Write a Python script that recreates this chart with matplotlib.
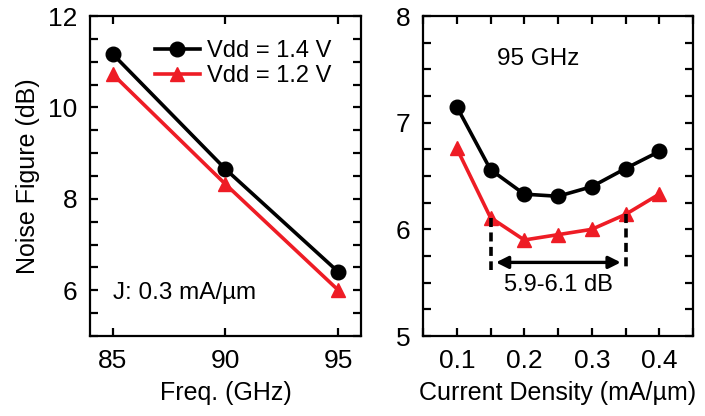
import matplotlib
matplotlib.use("Agg")
import matplotlib.pyplot as plt
from matplotlib.ticker import MultipleLocator, FuncFormatter

plt.rcParams['font.family'] = ['Liberation Sans', 'DejaVu Sans']

# ===== left: NF vs frequency =====
freq = [85, 90, 95]
nf_freq_14 = [11.17, 8.65, 6.4]
nf_freq_12 = [10.73, 8.32, 6.0]

# ===== right: NF vs current density @ 95 GHz =====
jd = [0.1, 0.15, 0.2, 0.25, 0.3, 0.35, 0.4]
nf_jd_14 = [7.15, 6.56, 6.33, 6.31, 6.40, 6.57, 6.73]
nf_jd_12 = [6.76, 6.11, 5.90, 5.95, 6.00, 6.14, 6.33]

BLACK = "#000000"
RED = "#ee1c25"

fig = plt.figure(figsize=(7.05, 4.16), dpi=100)
ax1 = fig.add_axes([0.1277, 0.1923, 0.3843, 0.7692])
ax2 = fig.add_axes([0.600, 0.1923, 0.383, 0.7692])

line_kw = dict(lw=2.6, markersize=10.5)

ax1.plot(freq, nf_freq_14, color=BLACK, marker="o", label="Vdd = 1.4 V", **line_kw)
ax1.plot(freq, nf_freq_12, color=RED, marker="^", label="Vdd = 1.2 V",
         markeredgecolor=RED, **line_kw)
ax1.set_xlim(84, 96)
ax1.set_ylim(5, 12)
ax1.xaxis.set_major_locator(MultipleLocator(5))
ax1.yaxis.set_major_locator(MultipleLocator(2))
ax1.yaxis.set_minor_locator(MultipleLocator(0.5))
ax1.set_xlabel("Freq. (GHz)", fontsize=18, labelpad=6)
ax1.set_ylabel("Noise Figure (dB)", fontsize=18, labelpad=6)
ax1.text(85, 5.94, "J: 0.3 mA/µm", fontsize=17.5, va="center", ha="left")
ax1.legend(loc="upper right", bbox_to_anchor=(0.925, 0.955), fontsize=17,
           frameon=False, handlelength=1.9, handletextpad=0.3,
           borderaxespad=0.1, labelspacing=0.15, borderpad=0.3)

ax2.plot(jd, nf_jd_14, color=BLACK, marker="o", **line_kw)
ax2.plot(jd, nf_jd_12, color=RED, marker="^", markeredgecolor=RED, **line_kw)
ax2.set_xlim(0.05, 0.45)
ax2.set_ylim(5, 8)
ax2.xaxis.set_major_locator(MultipleLocator(0.05))
ax2.xaxis.set_major_formatter(
    FuncFormatter(lambda v, p: f"{v:.1f}" if round(v * 100) % 10 == 0 else ""))
ax2.yaxis.set_major_locator(MultipleLocator(1))
ax2.yaxis.set_minor_locator(MultipleLocator(0.25))
ax2.set_xlabel("Current Density (mA/µm)", fontsize=18, labelpad=6)
ax2.text(0.16, 7.6, "95 GHz", fontsize=17.5, va="center", ha="left")

# range annotation
for xv, yv in [(0.15, nf_jd_12[1]), (0.35, nf_jd_12[5])]:
    ax2.plot([xv, xv], [yv, 5.62], color=BLACK, lw=2.6, ls=(0, (2.5, 1.5)))
ax2.annotate("", xy=(0.158, 5.69), xytext=(0.343, 5.69),
             arrowprops=dict(arrowstyle="<|-|>", color=BLACK, lw=2.4,
                             mutation_scale=18, shrinkA=0, shrinkB=0))
ax2.text(0.25, 5.48, "5.9-6.1 dB", fontsize=17, ha="center", va="center")

for ax in (ax1, ax2):
    for s in ax.spines.values():
        s.set_linewidth(1.6)
    ax.tick_params(which="both", direction="in", top=True, right=True,
                   width=1.6, length=6, labelsize=19, pad=9)

fig.savefig("out.png", dpi=100)
